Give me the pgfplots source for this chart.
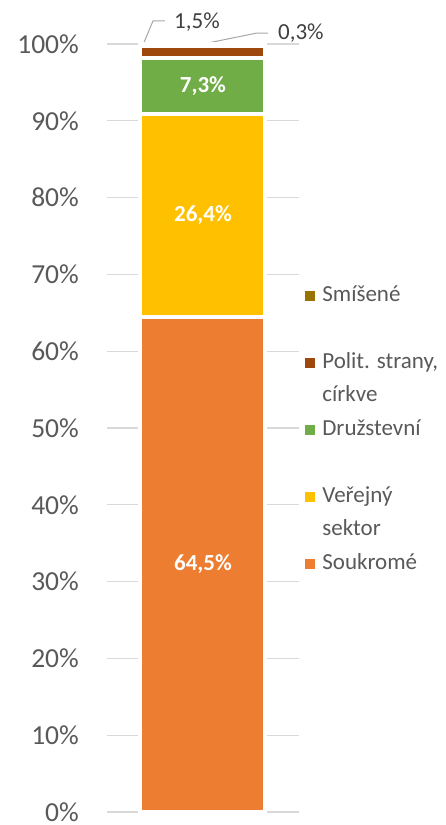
\documentclass[border=0pt]{standalone}
\usepackage{pgfplots}
\pgfplotsset{compat=1.18}
\usepackage{fontspec}
\setmainfont{Carlito}
\definecolor{soukr}{HTML}{ED7D31}
\definecolor{verej}{HTML}{FFC000}
\definecolor{druz}{HTML}{70AD47}
\definecolor{polit}{HTML}{9E480E}
\definecolor{smis}{HTML}{997300}
\definecolor{txt}{HTML}{595959}
\definecolor{lbl}{HTML}{404040}
\definecolor{grd}{HTML}{D9D9D9}
\definecolor{lead}{HTML}{A6A6A6}
\begin{document}
\begin{tikzpicture}
\path[use as bounding box] (-107pt,-13pt) rectangle (339pt,812pt);
\begin{axis}[
  at={(0,0)}, anchor=south west,
  scale only axis, width=192pt, height=768pt,
  xmin=-1, xmax=1, ymin=0, ymax=100,
  ybar stacked, bar width=125pt,
  xtick=\empty,
  ytick={0,10,20,30,40,50,60,70,80,90,100},
  yticklabels={0\%,10\%,20\%,30\%,40\%,50\%,60\%,70\%,80\%,90\%,100\%},
  yticklabel style={font=\fontsize{27.5}{30}\selectfont, text=txt, inner sep=0pt, xshift=-28pt},
  ymajorgrids, grid style={grd, line width=1.3pt},
  major tick length=0pt,
  axis line style={draw=none},
  clip=false,
  legend cell align=left,
  legend style={draw=none, fill=none, at={(1.031,0.686)}, anchor=north west,
    inner sep=0pt, outer sep=0pt, row sep=11.5pt, column sep=8pt,
    font=\fontsize{23}{27}\selectfont, text=txt,
    nodes={inner sep=0pt, text height=16pt, text depth=6pt}},
  lab/.style={nodes near coords={#1},
    every node near coord/.append style={font=\bfseries\fontsize{23}{26}\selectfont, text=white, anchor=center, inner sep=0pt}},
]
\addlegendimage{legend image code/.code={\fill[smis] (0pt,-4.5pt) rectangle (9pt,4.5pt);}}
\addlegendentry{Smíšené}
\addlegendimage{empty legend}
\addlegendentry{\mbox{}}
\addlegendimage{legend image code/.code={\fill[polit] (0pt,-4.5pt) rectangle (9pt,4.5pt);}}
\addlegendentry{Polit. strany,}
\addlegendimage{empty legend}
\addlegendentry{církve}
\addlegendimage{legend image code/.code={\fill[druz] (0pt,-4.5pt) rectangle (9pt,4.5pt);}}
\addlegendentry{Družstevní}
\addlegendimage{empty legend}
\addlegendentry{\mbox{}}
\addlegendimage{legend image code/.code={\fill[verej] (0pt,-4.5pt) rectangle (9pt,4.5pt);}}
\addlegendentry{Veřejný}
\addlegendimage{empty legend}
\addlegendentry{sektor}
\addlegendimage{legend image code/.code={\fill[soukr] (0pt,-4.5pt) rectangle (9pt,4.5pt);}}
\addlegendentry{Soukromé}

\addplot[fill=soukr, draw=white, line width=4pt, lab={64,5\%}] coordinates {(0,64.5)};
\addplot[fill=verej, draw=white, line width=4pt, lab={26,4\%}] coordinates {(0,26.4)};
\addplot[fill=druz, draw=white, line width=4pt, lab={7,3\%}] coordinates {(0,7.3)};
\addplot[fill=polit, draw=white, line width=4pt] coordinates {(0,1.5)};
\addplot[fill=smis, draw=white, line width=4pt] coordinates {(0,0.3)};

\draw[lead, line width=1pt] (axis cs:-0.656,98.96) -- (axis cs:-0.521,103.0) -- (axis cs:-0.396,103.0);
\node[anchor=west, text=lbl, font=\fontsize{23}{26}\selectfont, inner sep=0pt] at (axis cs:-0.302,102.86) {1,5\%};
\draw[lead, line width=1pt] (axis cs:0,100) -- (axis cs:0.5625,101.43) -- (axis cs:0.677,101.43);
\node[anchor=west, text=lbl, font=\fontsize{23}{26}\selectfont, inner sep=0pt] at (axis cs:0.781,101.43) {0,3\%};
\end{axis}
\end{tikzpicture}
\end{document}
